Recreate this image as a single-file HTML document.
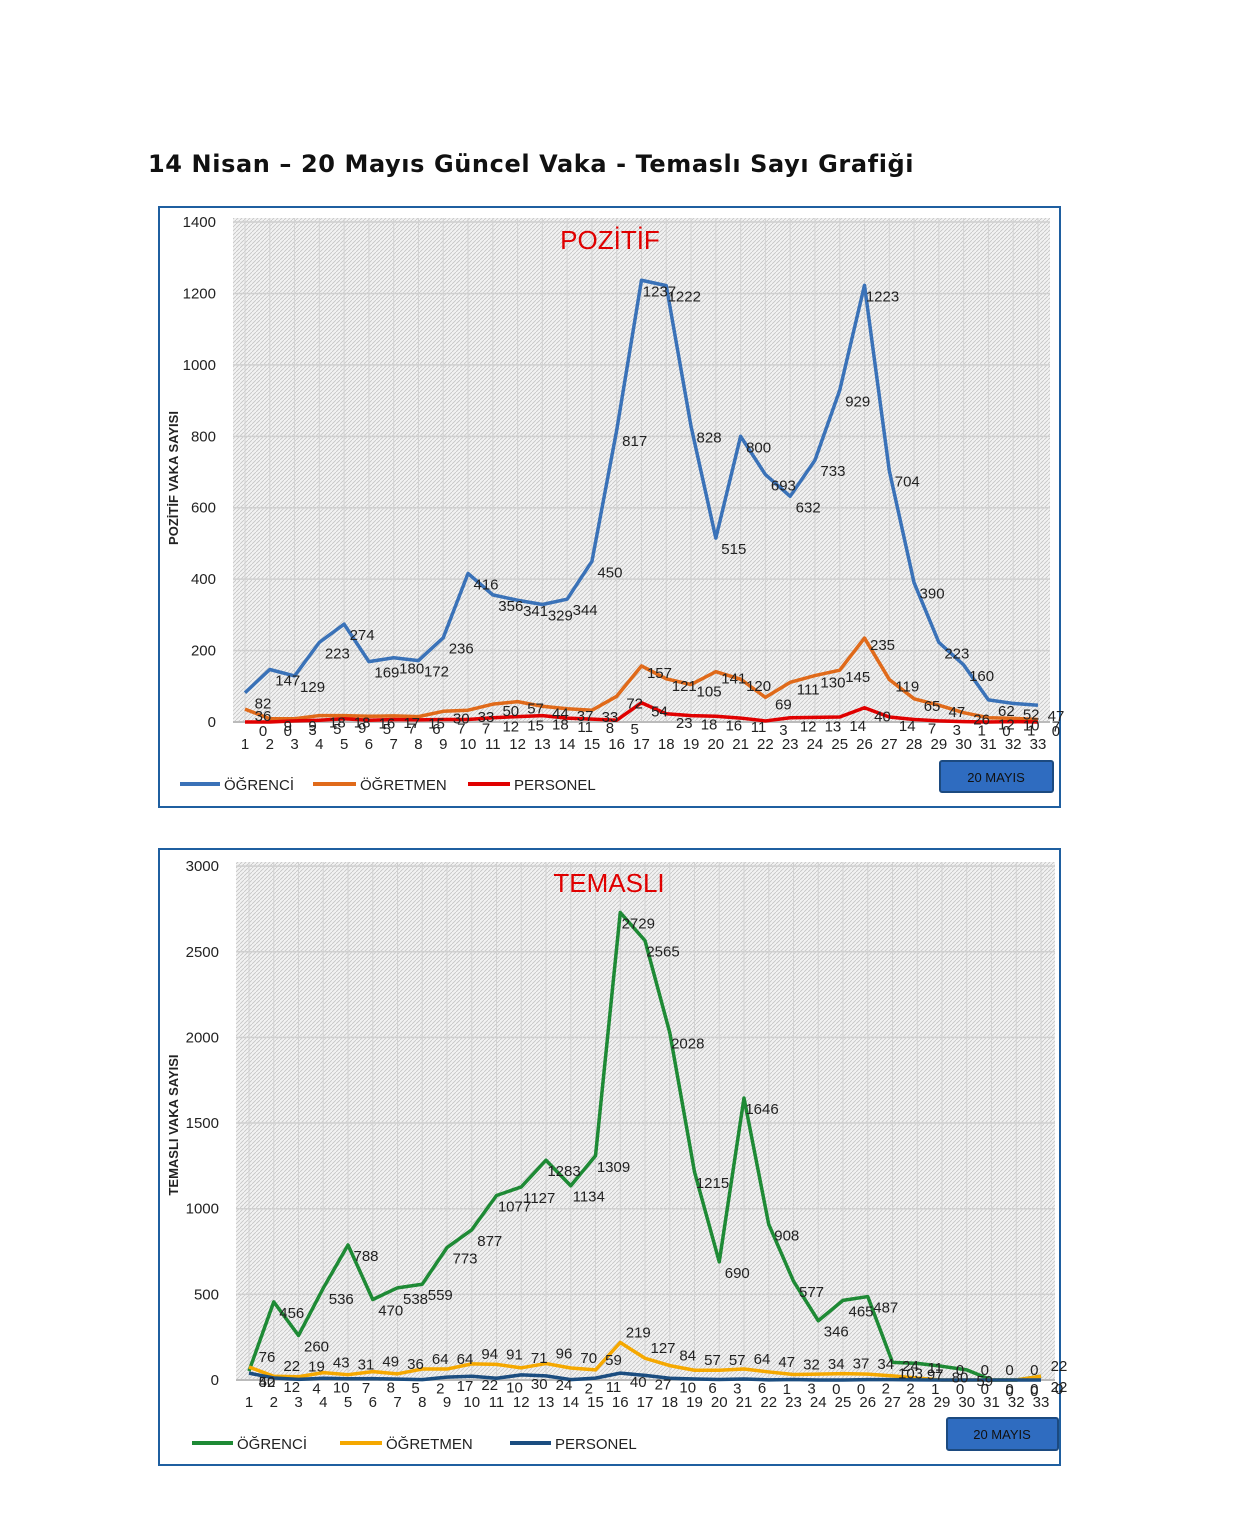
<!DOCTYPE html>
<html><head><meta charset="utf-8">
<style>
body{margin:0;background:#fff;width:1235px;height:1520px;overflow:hidden;font-family:"Liberation Sans","DejaVu Sans",sans-serif}
svg text{font-family:"Liberation Sans","DejaVu Sans",sans-serif}
</style></head>
<body>
<svg id="s" width="1235" height="1520" xmlns="http://www.w3.org/2000/svg">
<defs>
<pattern id="h" width="4" height="4" patternUnits="userSpaceOnUse">
<rect width="4" height="4" fill="#f2f2f2"/>
<path d="M0,4 L4,0" stroke="#c4c4c4" stroke-width="0.8"/>
</pattern>
</defs>
<text x="148" y="172" font-weight="bold" font-size="24" letter-spacing="0.6" fill="#111" style="font-family:'DejaVu Sans',sans-serif">14 Nisan – 20 Mayıs Güncel Vaka - Temaslı Sayı Grafiği</text>

<rect x="159" y="207" width="901" height="600" fill="#fff" stroke="#1f5fa0" stroke-width="2"/>
<rect x="233" y="218" width="817" height="504" fill="url(#h)"/>
<g id="top"></g>
<text x="610" y="249" text-anchor="middle" font-size="26" fill="#e00000">POZİTİF</text>
<text transform="translate(178,478) rotate(-90)" text-anchor="middle" font-size="13" font-weight="bold" fill="#222">POZİTİF VAKA SAYISI</text>
<line x1="180" y1="784" x2="220" y2="784" stroke="#3a72b8" stroke-width="4"/><text x="224" y="790" font-size="15" fill="#222">ÖĞRENCİ</text>
<line x1="313" y1="784" x2="356" y2="784" stroke="#e06a1a" stroke-width="4"/><text x="360" y="790" font-size="15" fill="#222">ÖĞRETMEN</text>
<line x1="468" y1="784" x2="510" y2="784" stroke="#e00000" stroke-width="4"/><text x="514" y="790" font-size="15" fill="#222">PERSONEL</text>
<rect x="940" y="761" width="113" height="31" rx="2" fill="#2f6cc0" stroke="#1c4a80" stroke-width="2"/>
<text x="996" y="782" text-anchor="middle" font-size="13" fill="#111">20 MAYIS</text>

<rect x="159" y="849" width="901" height="616" fill="#fff" stroke="#1f5fa0" stroke-width="2"/>
<rect x="236" y="862" width="819" height="518" fill="url(#h)"/>
<g id="bot"></g>
<text x="609" y="892" text-anchor="middle" font-size="26" fill="#e00000">TEMASLI</text>
<text transform="translate(178,1125) rotate(-90)" text-anchor="middle" font-size="13" font-weight="bold" fill="#222">TEMASLI VAKA SAYISI</text>
<line x1="192" y1="1443" x2="233" y2="1443" stroke="#1e8a35" stroke-width="4"/><text x="237" y="1449" font-size="15" fill="#222">ÖĞRENCİ</text>
<line x1="340" y1="1443" x2="382" y2="1443" stroke="#f5a800" stroke-width="4"/><text x="386" y="1449" font-size="15" fill="#222">ÖĞRETMEN</text>
<line x1="510" y1="1443" x2="551" y2="1443" stroke="#1b4d80" stroke-width="4"/><text x="555" y="1449" font-size="15" fill="#222">PERSONEL</text>
<rect x="947" y="1418" width="111" height="32" rx="2" fill="#2f6cc0" stroke="#1c4a80" stroke-width="2"/>
<text x="1002" y="1439" text-anchor="middle" font-size="13" fill="#111">20 MAYIS</text>
</svg>
<script>
function chart(g,o){
  var s='';
  var y=v=>o.y0-v*o.k, x=i=>o.x1+i*o.dx;
  for(var i=0;i<33;i++){s+='<line x1="'+x(i)+'" y1="'+o.top+'" x2="'+x(i)+'" y2="'+o.y0+'" stroke="#d2d2d2" stroke-width="1"/>';}
  for(var v=0;v<=o.max;v+=o.step){s+='<line x1="'+o.left+'" y1="'+y(v)+'" x2="'+o.right+'" y2="'+y(v)+'" stroke="#d0d0d0" stroke-width="1.5"/>';
    s+='<text x="'+(o.left-17)+'" y="'+(y(v)+5)+'" text-anchor="end" font-size="15" fill="#222">'+v+'</text>';}
  s+='<line x1="'+o.left+'" y1="'+o.y0+'" x2="'+o.right+'" y2="'+o.y0+'" stroke="#bbb" stroke-width="2"/>';
  for(var i=0;i<33;i++)s+='<text x="'+x(i)+'" y="'+(o.y0+27)+'" text-anchor="middle" font-size="15" fill="#222">'+(i+1)+'</text>';
  o.series.forEach(function(se){
    var p=se.d.map((v,i)=>x(i)+','+y(v)).join(' ');
    s+='<polyline points="'+p+'" fill="none" stroke="'+se.c+'" stroke-width="3.5" stroke-linejoin="round"/>';
  });
  o.series.forEach(function(se){
    se.d.forEach(function(v,i){s+='<text x="'+(x(i)+18)+'" y="'+(y(v)+se.off)+'" text-anchor="middle" font-size="15" fill="#222">'+v+'</text>';});
  });
  document.getElementById(g).innerHTML=s;
}
chart('top',{x1:245,dx:24.78,y0:722,k:0.3571,top:218,left:233,right:1050,max:1400,step:200,series:[
 {c:'#3a72b8',off:16,d:[82,147,129,223,274,169,180,172,236,416,356,341,329,344,450,817,1237,1222,828,515,800,693,632,733,929,1223,704,390,223,160,62,52,47]},
 {c:'#e06a1a',off:12,d:[36,9,9,18,18,16,17,15,30,33,50,57,44,37,33,72,157,121,105,141,120,69,111,130,145,235,119,65,47,26,12,10,7]},
 {c:'#e00000',off:14,d:[0,0,3,5,9,5,7,6,7,7,12,15,18,11,8,5,54,23,18,16,11,3,12,13,14,40,14,7,3,1,0,1,0]}]});
chart('bot',{x1:249,dx:24.75,y0:1380,k:0.1713,top:862,left:236,right:1055,max:3000,step:500,series:[
 {c:'#1e8a35',off:16,d:[52,456,260,536,788,470,538,559,773,877,1077,1127,1283,1134,1309,2729,2565,2028,1215,690,1646,908,577,346,465,487,103,97,80,59,0,0,22]},
 {c:'#f5a800',off:-5,d:[76,22,19,43,31,49,36,64,64,94,91,71,96,70,59,219,127,84,57,57,64,47,32,34,37,34,24,11,0,0,0,0,22]},
 {c:'#1b4d80',off:14,d:[40,12,4,10,7,8,5,2,17,22,10,30,24,2,11,40,27,10,6,3,6,1,3,0,0,2,2,1,0,0,0,0,0]}]});
</script>
</body></html>
